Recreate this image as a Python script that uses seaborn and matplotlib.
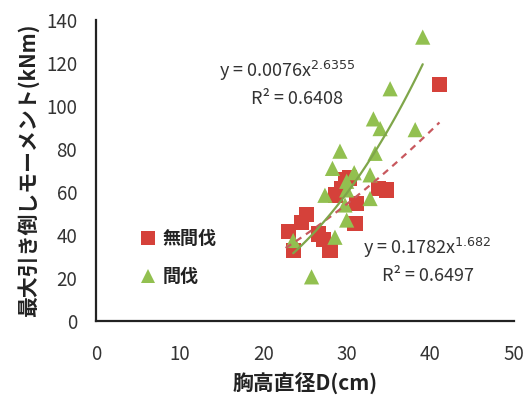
import matplotlib
matplotlib.use("Agg")
import matplotlib.pyplot as plt
import seaborn as sns
import numpy as np
import pandas as pd

# --- data ---
no_thin_x = [23.0, 23.6, 24.6, 25.2, 26.6, 27.2, 28.0, 28.7, 29.4, 29.9, 30.3, 31.2, 31.0, 33.8, 34.8, 41.1]
no_thin_y = [41.5, 33.0, 46.0, 49.5, 40.5, 38.0, 33.0, 58.6, 61.7, 65.6, 66.5, 54.7, 45.4, 61.7, 61.0, 110.0]
thin_x = [39.1, 35.2, 33.2, 34.0, 38.2, 29.2, 33.4, 28.3, 30.9, 32.8, 30.0, 27.4, 30.0, 32.8, 29.8, 30.0, 28.6, 23.6, 25.8]
thin_y = [132.0, 108.0, 94.0, 89.5, 89.0, 79.0, 78.0, 71.0, 69.0, 68.0, 65.0, 58.5, 61.0, 57.0, 54.0, 47.0, 39.0, 37.5, 20.6]
series_names = ["無間伐", "間伐"]
# power trendlines y = a * x^b shown on the chart
fit_no_thin = (0.1782, 1.682, 0.6497, 22.7, 41.1)
fit_thin = (0.0076, 2.6355, 0.6408, 23.6, 39.1)
x_ticks = [0, 10, 20, 30, 40, 50]
y_ticks = [0, 20, 40, 60, 80, 100, 120, 140]

df = pd.DataFrame({
    "D": no_thin_x + thin_x,
    "M": no_thin_y + thin_y,
    "group": [series_names[0]] * len(no_thin_x) + [series_names[1]] * len(thin_x),
})

sns.set_theme(style="white")
plt.rcParams["font.family"] = ["Noto Sans CJK JP", "DejaVu Sans"]

fig = plt.figure(figsize=(5.27, 3.98), dpi=100)
ax = fig.add_axes([0.182, 0.193, 0.793, 0.757])

red = "#D5413A"
green = "#92C050"
sns.scatterplot(data=df, x="D", y="M", hue="group", style="group",
                hue_order=series_names, style_order=series_names,
                palette={series_names[0]: red, series_names[1]: green},
                markers={series_names[0]: "s", series_names[1]: "^"},
                s=120, edgecolor="none", linewidth=0, ax=ax, zorder=3)

def curve(fit):
    a, b, r2, x0, x1 = fit
    xs = np.linspace(x0, x1, 50)
    return xs, a * xs ** b

xs, ys = curve(fit_no_thin)
sns.lineplot(x=xs, y=ys, ax=ax, color="#C8585E", linestyle=(0, (3, 2.5)), linewidth=1.6, zorder=4)
xs, ys = curve(fit_thin)
sns.lineplot(x=xs, y=ys, ax=ax, color="#7FA64A", linestyle="-", linewidth=1.6, zorder=4)

ax.set_xlim(0, 50)
ax.set_ylim(0, 140)
ax.set_xticks(x_ticks)
ax.set_yticks(y_ticks)
ax.tick_params(axis="both", direction="inout", length=7, width=1.5, colors="#222222",
               labelsize=13.5, labelcolor="#333333")
ax.tick_params(axis="y", pad=10)
ax.tick_params(axis="x", pad=13)
for s in ["top", "right"]:
    ax.spines[s].set_visible(False)
for s in ["left", "bottom"]:
    ax.spines[s].set_color("#222222")
    ax.spines[s].set_linewidth(1.6)

ax.set_xlabel("胸高直径D(cm)", fontsize=15, fontweight="bold", color="#222222", labelpad=5)
ax.set_ylabel("最大引き倒しモーメント(kNm)", fontsize=15, fontweight="bold", color="#222222", labelpad=5)

txtc = "#333333"
ax.text(0.295, 0.812, r"y = 0.0076x$^{2.6355}$", transform=ax.transAxes, fontsize=13, color=txtc)
ax.text(0.37, 0.722, "R² = 0.6408", transform=ax.transAxes, fontsize=13, color=txtc)
ax.text(0.64, 0.222, r"y = 0.1782x$^{1.682}$", transform=ax.transAxes, fontsize=13, color=txtc)
ax.text(0.685, 0.135, "R² = 0.6497", transform=ax.transAxes, fontsize=13, color=txtc)

leg = ax.legend(loc="upper left", bbox_to_anchor=(0.065, 0.36), frameon=False,
                handlelength=1.0, handletextpad=0.3, labelspacing=1.05, markerscale=0.95,
                prop={"weight": "bold", "size": 13})
for t in leg.get_texts():
    t.set_color("#222222")

fig.savefig("out.png", dpi=100)
